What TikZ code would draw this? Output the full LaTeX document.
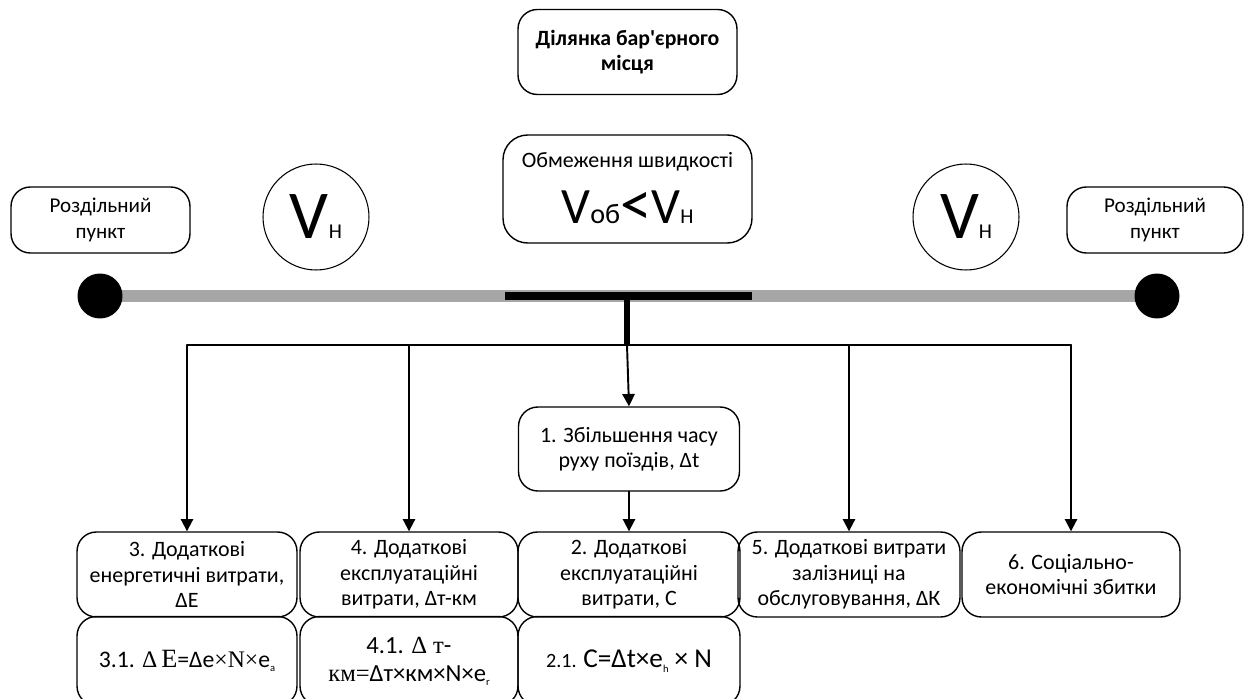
\documentclass[tikz,border=0pt]{standalone}
\usepackage{fontspec}
\setmainfont{Carlito}[Ligatures=TeXOff]
\newfontfamily\tnr{Liberation Serif}
\usetikzlibrary{arrows.meta,backgrounds}
\newcommand\sbs[1]{\raisebox{-0.35ex}{\fontsize{6}{6}\selectfont #1}}
\begin{document}
\begin{tikzpicture}[x=0.02cm, y=-0.02cm, font=\fontsize{12.5}{14.4}\selectfont, line join=round, line cap=round,
	>={Triangle[width=7pt,length=7pt]},
	box/.style={draw, line width=0.8pt, rounded corners=11pt, align=center, inner sep=0pt, minimum width=#1, minimum height=1.7cm},
	circ/.style={draw, circle, line width=0.6pt, minimum size=2.12cm, inner sep=0pt},
	dot/.style={circle, fill=black, minimum size=0.9cm, inner sep=0pt},
	rail/.style={line width=6.8pt, color=black!35},
	link/.style={line width=1.1pt}]
	\useasboundingbox (0,0) rectangle (1247,699);
	\node[box=4.38cm, font=\fontsize{12.4}{14.4}\selectfont\bfseries] (site) at (627.5,52) {Ділянка бар'єрного\\місця};
	\node[box=4.98cm, minimum height=2.16cm, rounded corners=14pt] (limit) at (627.5,189)
		{Обмеження швидкості\\[10pt]\fontsize{29}{30}\selectfont V{\fontsize{16}{16}\selectfont об}{\fontsize{36}{36}\selectfont\raisebox{-1pt}{<}}V{\fontsize{12}{12}\selectfont Н}};
	\node[box=3.58cm, minimum height=1.32cm, font=\fontsize{12}{14.6}\selectfont] (sepL) at (100.5,220) {Роздільний\\пункт};
	\node[box=3.52cm, minimum height=1.32cm, font=\fontsize{12}{14.6}\selectfont] (sepR) at (1155,220) {Роздільний\\пункт};
	\node[circ] (vL) at (316,217) {\fontsize{39}{40}\selectfont V{\fontsize{12}{12}\selectfont Н}};
	\node[circ] (vR) at (966,217) {\fontsize{39}{40}\selectfont V{\fontsize{12}{12}\selectfont Н}};
	\node[dot] (dotL) at (100,296) {};
	\node[dot] (dotR) at (1157,296) {};
	\coordinate (segL) at (505,296);
	\coordinate (segR) at (752,296);
	\coordinate (jct) at (627,296);
	\coordinate (bus) at (627,345);
	\node[box=4.42cm, minimum height=1.68cm] (b1) at (629,449) {1. Збільшення часу\\руху поїздів, Δt};
	\node[box=4.4cm] (b3) at (187,574.5) {3. Додаткові\\енергетичні витрати,\\ΔE};
	\node[box=4.36cm] (b4) at (409,574.5) {4. Додаткові\\експлуатаційні\\витрати, Δт-км};
	\node[box=4.44cm] (b2) at (629,574.5) {2. Додаткові\\експлуатаційні\\витрати, С};
	\node[box=4.44cm] (b5) at (849,574.5) {5. Додаткові витрати\\залізниці на\\обслуговування, ΔК};
	\node[box=4.36cm] (b6) at (1071,574.5) {6. Соціально-\\економічні збитки};
	\node[box=4.4cm, minimum height=1.78cm, font=\fontsize{13.5}{15}\selectfont] (b31) at (187,661) {3.1. {\tnr Δ\,\fontsize{15}{16}\selectfont E}=Δe{\tnr ×N×}e\sbs{a}};
	\node[box=4.36cm, minimum height=1.78cm, font=\fontsize{14}{16}\selectfont] (b41) at (409,661) {4.1. {\tnr Δ т}-\\{\tnr км=}Δт×км×N×e\sbs{r}};
	\node[box=4.44cm, minimum height=1.78cm] (b21) at (629,661) {{\fontsize{11.5}{12}\selectfont 2.1.} {\fontsize{15.5}{16}\selectfont C=Δt×e\sbs{h} × N}};
	\begin{scope}[on background layer]
		\draw[rail] (dotL.center) -- (dotR.center);
		\draw[line width=4pt] (segL) -- (segR);
	\end{scope}
	\draw[line width=3pt, line cap=butt] (jct) -- (bus);
	\draw[link] (b3.north |- bus) -- (b6.north |- bus);
	\foreach \b in {b3,b4,b5,b6} \draw[link,->] (\b.north |- bus) -- (\b.north);
	\draw[link,->] (bus) -- (b1.north);
	\draw[link,->] (b1.south) -- (b2.north);
\end{tikzpicture}
\end{document}
